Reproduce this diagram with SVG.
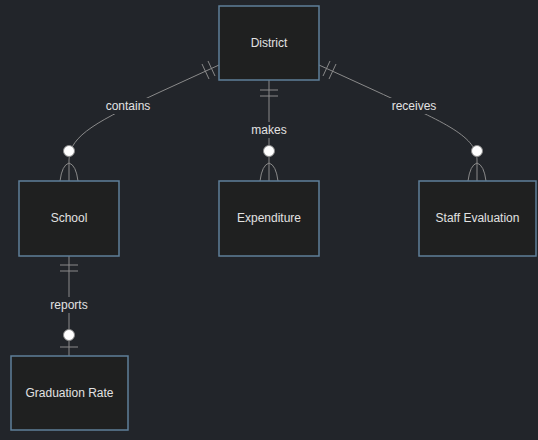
<svg xmlns="http://www.w3.org/2000/svg" width="538" height="440" viewBox="0 0 538 440">
<style>
.bg{fill:#22252a}
.ent rect{fill:#1f2020;stroke:#5f7f99;stroke-width:1.5}
.ent text{fill:#e2e2e2;font-family:"Liberation Sans","DejaVu Sans",sans-serif;font-size:12px;text-anchor:middle;dominant-baseline:central}
.ln{fill:none;stroke:#8a8a8a;stroke-width:1}
.mk{fill:none;stroke:#8a8a8a;stroke-width:1}
.dot{fill:#ffffff;stroke:#8a8a8a;stroke-width:1}
.lbl rect{fill:#22252a}
.lbl text{fill:#e2e2e2;font-family:"Liberation Sans","DejaVu Sans",sans-serif;font-size:12px;text-anchor:middle;dominant-baseline:central}
</style>
<rect class="bg" x="0" y="0" width="538" height="440"/>
<g id="connectors">
  <path class="ln" d="M219,65 L160,92 C100,120 69,135 69,160 L69,181"/>
  <path class="ln" d="M269,80 L269,181"/>
  <path class="ln" d="M319,65 L378,92 C438,120 477,135 477,160 L477,181"/>
  <path class="ln" d="M69,256 L69,356"/>
  <!-- markers District side -->
  <path class="mk" d="M202,64 L209,79 M208,61 L215,76"/>
  <path class="mk" d="M330,61 L323,76 M336,64 L329,79"/>
  <path class="mk" d="M260,90 L278,90 M260,96 L278,96"/>
  <path class="mk" d="M60,265 L78,265 M60,271 L78,271"/>
  <path class="mk" d="M60,347 L78,347"/>
  <!-- crow feet -->
  <path class="mk" d="M60,181 Q62,165 69,163 Q76,165 78,181"/>
  <path class="mk" d="M260,181 Q262,165 269,163 Q276,165 278,181"/>
  <path class="mk" d="M468,181 Q470,165 477,163 Q484,165 486,181"/>
  <circle class="dot" cx="69" cy="151" r="5.5"/>
  <circle class="dot" cx="269" cy="151" r="5.5"/>
  <circle class="dot" cx="477" cy="151" r="5.5"/>
  <circle class="dot" cx="69" cy="335" r="5.5"/>
  <g class="lbl"><rect x="104" y="98" width="48" height="16"/><text x="128" y="106">contains</text></g>
  <g class="lbl"><rect x="251" y="122" width="36" height="16"/><text x="269" y="130">makes</text></g>
  <g class="lbl"><rect x="390" y="98" width="48" height="16"/><text x="414" y="106">receives</text></g>
  <g class="lbl"><rect x="48" y="297" width="42" height="16"/><text x="69" y="305">reports</text></g>
</g>
<g id="district" class="ent"><rect x="219" y="6" width="100" height="74"/><text x="269" y="43">District</text></g>
<g id="school" class="ent"><rect x="19" y="181" width="100" height="75"/><text x="69" y="218">School</text></g>
<g id="expenditure" class="ent"><rect x="219" y="181" width="100" height="75"/><text x="269" y="218">Expenditure</text></g>
<g id="staff-evaluation" class="ent"><rect x="419" y="181" width="117" height="75"/><text x="477.5" y="218">Staff Evaluation</text></g>
<g id="graduation-rate" class="ent"><rect x="11" y="356" width="117" height="74"/><text x="69.5" y="393">Graduation Rate</text></g>
</svg>
